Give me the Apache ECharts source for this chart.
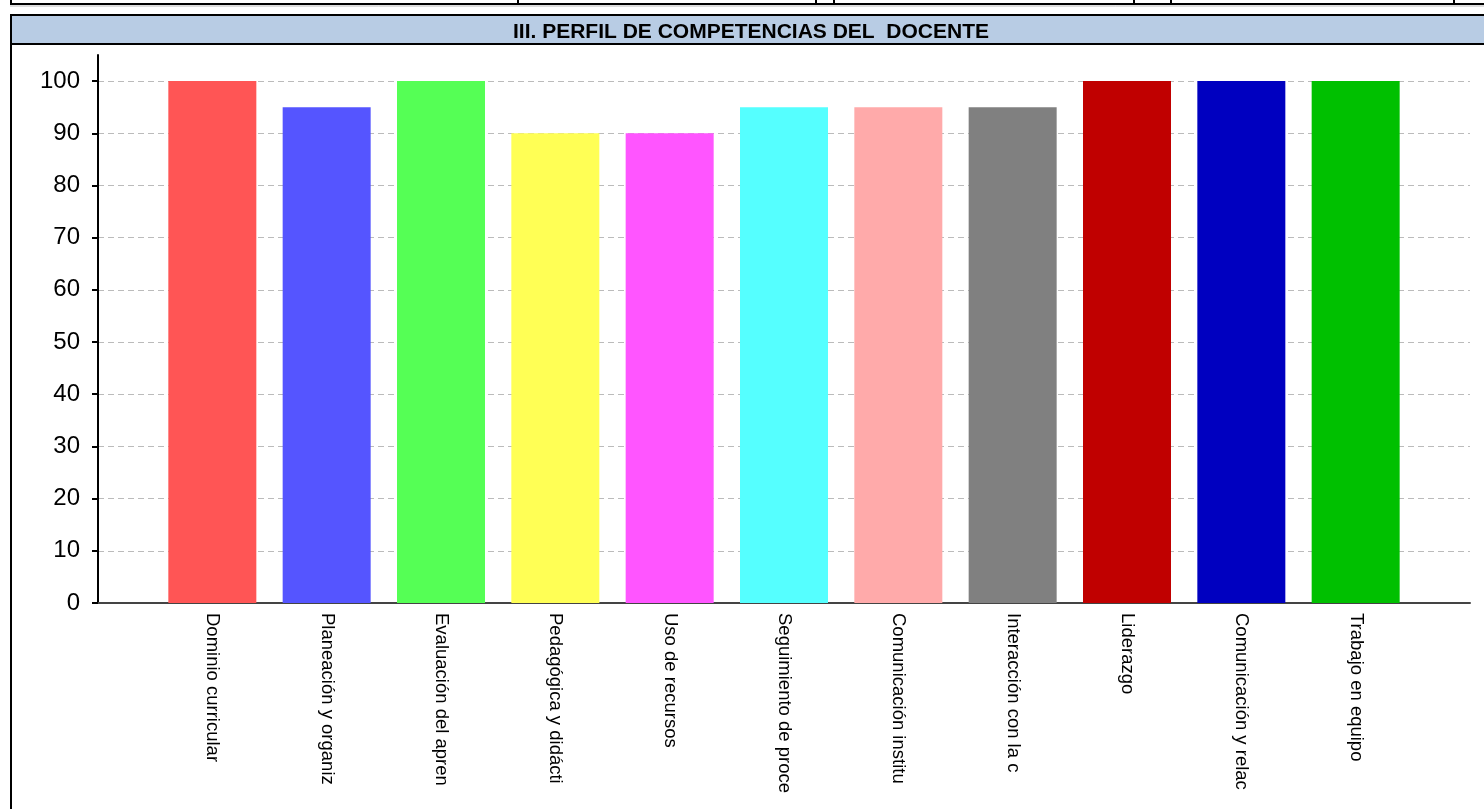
<!DOCTYPE html>
<html>
<head>
<meta charset="utf-8">
<script src="https://cdn.jsdelivr.net/npm/echarts@6/dist/echarts.min.js"></script>
<style>
html,body{margin:0;padding:0;background:#fff;}
#chart{width:1484px;height:809px;}
</style>
</head>
<body>
<div id="chart"></div>
<script>
var title = 'III. PERFIL DE COMPETENCIAS DEL  DOCENTE';
var categories = ['Dominio curricular','Planeación y organiz','Evaluación del apren','Pedagógica y didácti','Uso de recursos','Seguimiento de proce','Comunicación institu','Interacción con la c','Liderazgo','Comunicación y relac','Trabajo en equipo'];
var values = [100, 95, 100, 90, 90, 95, 95, 95, 100, 100, 100];
var colors = ['#ff5555','#5555ff','#55ff55','#ffff55','#ff55ff','#55ffff','#ffaaaa','#808080','#c00000','#0000c0','#00c000'];
var yTicks = [0,10,20,30,40,50,60,70,80,90,100];

var chart = echarts.init(document.getElementById('chart'));
var axisCats = [''].concat(categories).concat(['']);
var barData = [null].concat(values.map(function(v,i){
  return {value:v, itemStyle:{color:colors[i]}};
})).concat([null]);

var topTicks = [10, 517, 815, 833, 1133, 1170, 1453];
var graphics = [
  {type:'rect', shape:{x:10,y:15,width:1474,height:30}, style:{fill:'#b8cce4', stroke:null}, z:0},
  {type:'line', shape:{x1:10,y1:15,x2:1484,y2:15}, style:{stroke:'#000',lineWidth:2}},
  {type:'line', shape:{x1:10,y1:44,x2:1484,y2:44}, style:{stroke:'#000',lineWidth:2}},
  {type:'line', shape:{x1:11,y1:14,x2:11,y2:809}, style:{stroke:'#000',lineWidth:2}},
  {type:'line', shape:{x1:10,y1:4,x2:1484,y2:4}, style:{stroke:'#000',lineWidth:2}},
  {type:'line', shape:{x1:10,y1:6,x2:1484,y2:6}, style:{stroke:'#bbb',lineWidth:1}},
  {type:'text', x:751, y:32, style:{text:title, font:'bold 21px "Liberation Sans", Arial, sans-serif', fill:'#000', textAlign:'center', textVerticalAlign:'middle'}}
];
topTicks.forEach(function(x){
  graphics.push({type:'line', shape:{x1:x+1,y1:0,x2:x+1,y2:5}, style:{stroke:'#000',lineWidth:2}});
});

chart.setOption({
  animation:false,
  backgroundColor:'#fff',
  textStyle:{fontFamily:'"Liberation Sans", Arial, sans-serif'},
  grid:{left:98, right:14, top:55, bottom:206, containLabel:false},
  xAxis:{
    type:'category',
    data:axisCats,
    boundaryGap:false,
    axisLine:{lineStyle:{color:'#444', width:2}},
    axisTick:{show:false},
    splitLine:{show:false},
    axisLabel:{rotate:-90, color:'#000', fontSize:18.5, margin:10, interval:0, verticalAlign:'middle'}
  },
  yAxis:{
    type:'value',
    min:0, max:105, interval:10,
    axisLine:{show:true, lineStyle:{color:'#000', width:2}},
    axisTick:{show:true, length:6, lineStyle:{color:'#000', width:2}, customValues:yTicks},
    axisLabel:{color:'#000', fontSize:24, margin:18, customValues:yTicks},
    splitLine:{show:true, lineStyle:{color:'#bbbbbb', type:[6,4], width:1}}
  },
  series:[{
    type:'bar',
    data:barData,
    barWidth:88,
    itemStyle:{borderColor:null}
  }],
  graphic:graphics
});
</script>
</body>
</html>
